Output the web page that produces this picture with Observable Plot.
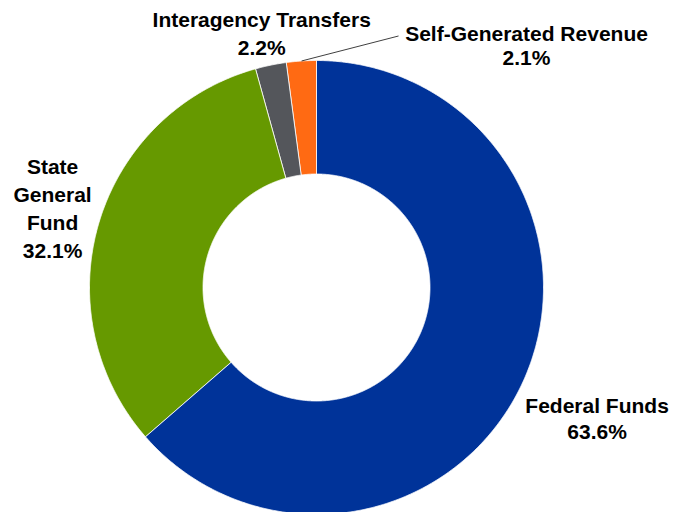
<!DOCTYPE html>
<html>
<head>
<meta charset="utf-8">
<script src="https://cdn.jsdelivr.net/npm/d3@7"></script>
<script src="https://cdn.jsdelivr.net/npm/@observablehq/plot@0.6"></script>
<style>
  html, body { margin: 0; padding: 0; background: #fff; }
  #chart { width: 675px; height: 512px; }
</style>
</head>
<body>
<div id="chart"></div>
<script>
// ---- data ----
const categories = ["Federal Funds", "State General Fund", "Interagency Transfers", "Self-Generated Revenue"];
const shares = [63.6, 32.1, 2.2, 2.1];
const labelNames = ["Federal Funds", "State\nGeneral\nFund", "Interagency Transfers", "Self-Generated Revenue"];
const colors = ["#003399", "#669900", "#54565b", "#ff6a13"];

// ---- layout / style settings ----
const W = 675, H = 512;
const cx = 316, cy = 287, R = 227;   // pixel center & outer radius
const innerRatio = 0.5;
const labelStyle = [
  {r: 1.30, dx: 12, dy: 8, lh: 1.25},
  {r: 1.214, dx: 0, dy: -1, lh: 1.32},
  {r: 1.143, dx: -3, dy: -1, lh: 1.33},
  {r: 1.0, dx: 225, dy: -16, lh: 1.14}
];

const data = categories.map((c, i) => ({name: c, value: shares[i], label: labelNames[i]}));
const arcs = d3.pie().sort(null).value(d => d.value)(data);

// sample annular sector outlines
const pts = [];
arcs.forEach(a => {
  const n = Math.max(8, Math.ceil((a.endAngle - a.startAngle) / 0.005));
  for (let k = 0; k <= n; k++) {
    const t = a.startAngle + (a.endAngle - a.startAngle) * k / n;
    pts.push({name: a.data.name, x: Math.sin(t), y: Math.cos(t)});
  }
  for (let k = n; k >= 0; k--) {
    const t = a.startAngle + (a.endAngle - a.startAngle) * k / n;
    pts.push({name: a.data.name, x: innerRatio * Math.sin(t), y: innerRatio * Math.cos(t)});
  }
});

const labels = arcs.map((a, i) => {
  const mid = (a.startAngle + a.endAngle) / 2;
  const s = labelStyle[i];
  return {
    x: s.r * Math.sin(mid), y: s.r * Math.cos(mid),
    text: a.data.label + "\n" + a.data.value.toFixed(1) + "%"
  };
});

// leader line for the small Self-Generated slice
const sg = arcs[3];
const sgMid = (sg.startAngle + sg.endAngle) / 2;
const leader = [{
  x1: Math.sin(sgMid), y1: Math.cos(sgMid),
  x2: Math.sin(sgMid) + 97 / R, y2: Math.cos(sgMid) + 25 / R
}];

const textMarks = labels.map((l, i) => Plot.text([l], {
  x: "x", y: "y", text: "text",
  dx: labelStyle[i].dx, dy: labelStyle[i].dy,
  fontSize: 21, fontWeight: "bold", lineHeight: labelStyle[i].lh, fill: "#000"
}));

const plot = Plot.plot({
  width: W, height: H,
  margin: 0,
  x: {type: "linear", domain: [-1, 1], range: [cx - R, cx + R], axis: null},
  y: {type: "linear", domain: [-1, 1], range: [cy + R, cy - R], axis: null},
  color: {domain: categories, range: colors},
  style: {fontFamily: "'Liberation Sans', Arial, sans-serif", background: "#fff"},
  marks: [
    Plot.line(pts, {x: "x", y: "y", z: "name", fill: "name", stroke: "white", strokeWidth: 0.8, curve: "linear-closed"}),
    Plot.link(leader, {x1: "x1", y1: "y1", x2: "x2", y2: "y2", stroke: "#404040", strokeWidth: 1}),
    ...textMarks
  ]
});
document.getElementById("chart").appendChild(plot);
</script>
</body>
</html>
